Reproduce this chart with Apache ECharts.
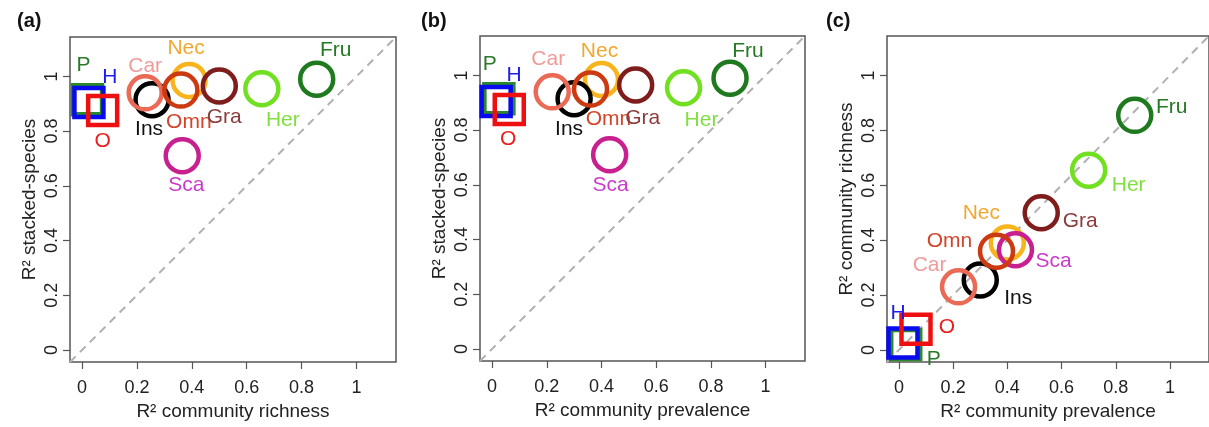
<!DOCTYPE html>
<html>
<head>
<meta charset="utf-8">
<script src="https://cdn.jsdelivr.net/npm/echarts@6/dist/echarts.min.js"></script>
<style>
html, body { margin: 0; background: #fff; }
#chart { width: 1209px; height: 427px; }
</style>
</head>
<body>
<div id="chart"></div>
<script>
// feeding guilds, in plotting order
var guilds     = ['P', 'H', 'O', 'Nec', 'Sca', 'Ins', 'Car', 'Omn', 'Gra', 'Her', 'Fru'];
var richness   = [0.02, 0.025, 0.075, 0.39, 0.365, 0.255, 0.23, 0.36, 0.50, 0.655, 0.855];
var prevalence = [0.025, 0.015, 0.063, 0.40, 0.43, 0.30, 0.22, 0.36, 0.525, 0.70, 0.87];
var stacked    = [0.915, 0.905, 0.875, 0.985, 0.71, 0.915, 0.94, 0.95, 0.965, 0.955, 0.99];
var tickValues = [0, 0.2, 0.4, 0.6, 0.8, 1];

//symbol & colours
var shapes     = ['rect', 'rect', 'rect', 'circle', 'circle', 'circle', 'circle', 'circle', 'circle', 'circle', 'circle'];
var ringColors = ['#2a8a2a', '#0a0aee', '#ee1010', '#f8b41c', '#c8208e', '#000000', '#ea6a55', '#cc3a12', '#7f1c1c', '#70e020', '#1f7a1f'];
var textColors = ['#2a7a2a', '#1c1cee', '#ee1c1c', '#f0a830', '#c93bc9', '#111111', '#f09a9a', '#d2452a', '#8c3c3c', '#80e040', '#237a23'];

//label offsets (px from marker centre) for each panel
var offsA = [[-4, -34], [21, -25], [0, 31], [-3, -32], [4, 29], [-3, 30], [0, -27], [8, 32], [5, 31], [21, 31], [19, -29]];
var offsB = [[-9, -34], [18, -26], [-1, 30], [-2, -28], [1, 30], [-5, 31], [-4, -33], [18, 30], [7, 33], [18, 32], [18, -27]];
var offsC = [[28, 15], [-5, -30], [31, -2], [-26, -30], [38, 11], [38, 18], [-29, -22], [-47, -10], [39, 8], [40, 15], [37, -8]];

var LO = -0.044, HI = 1.144;
var FONT = 'Liberation Sans, Arial, sans-serif';

var panels = [
  { tag: '(a)', xs: richness,   ys: stacked,  offs: offsA, xName: 'R² community richness',   yName: 'R² stacked-species',
    grid: { left: 70, top: 37, width: 326, height: 325 }, tagLeft: 12 },
  { tag: '(b)', xs: prevalence, ys: stacked,  offs: offsB, xName: 'R² community prevalence', yName: 'R² stacked-species',
    grid: { left: 480, top: 36, width: 325, height: 325 }, tagLeft: 416 },
  { tag: '(c)', xs: prevalence, ys: richness, offs: offsC, xName: 'R² community prevalence', yName: 'R² community richness',
    grid: { left: 887, top: 36, width: 326, height: 326 }, tagLeft: 821 }
];

function axisBase(name, isX) {
  return {
    type: 'value', min: LO, max: HI,
    name: name, nameLocation: 'middle', nameGap: isX ? 29 : 31,
    nameTextStyle: { fontFamily: FONT, fontSize: 19, color: '#222' },
    axisLine: { show: false, onZero: false },
    splitLine: { show: false },
    axisTick: { show: true, inside: false, length: 7, customValues: tickValues, lineStyle: { color: '#555', width: 1.2 } },
    axisLabel: {
      customValues: tickValues, margin: isX ? 17 : 9, rotate: isX ? 0 : 90,
      fontFamily: FONT, fontSize: 18, color: '#222',
      formatter: function (v) { return String(+v.toFixed(1)); }
    }
  };
}

var option = { animation: false, title: [], grid: [], xAxis: [], yAxis: [], series: [] };

panels.forEach(function (p, i) {
  option.title.push({ text: p.tag, left: p.tagLeft, top: 6, textStyle: { fontFamily: FONT, fontSize: 20, fontWeight: 'bold', color: '#111' } });
  option.grid.push(Object.assign({ show: true, borderColor: '#555', borderWidth: 1.5, backgroundColor: 'transparent' }, p.grid));
  option.xAxis.push(Object.assign(axisBase(p.xName, true), { gridIndex: i }));
  option.yAxis.push(Object.assign(axisBase(p.yName, false), { gridIndex: i }));

  option.series.push({
    type: 'line', xAxisIndex: i, yAxisIndex: i, silent: true, symbol: 'none', z: 1,
    data: [[LO, LO], [HI, HI]],
    lineStyle: { color: '#b0b0b0', width: 2, type: [8, 6] }
  });

  var pts = guilds.map(function (g, k) {
    var sq = shapes[k] === 'rect';
    return {
      value: [p.xs[k], p.ys[k]],
      symbol: shapes[k],
      symbolSize: sq ? 29 : 33,
      itemStyle: { color: 'rgba(0,0,0,0)', borderColor: ringColors[k], borderWidth: 4.5, opacity: 1 },
      label: {
        show: true, formatter: g, position: 'inside', offset: p.offs[k],
        align: 'center', verticalAlign: 'middle',
        fontFamily: FONT, fontSize: 21, color: textColors[k]
      }
    };
  });
  option.series.push({
    type: 'scatter', xAxisIndex: i, yAxisIndex: i, clip: false, z: 3,
    itemStyle: { opacity: 1 },
    data: pts
  });
});

var chart = echarts.init(document.getElementById('chart'));
chart.setOption(option);
</script>
</body>
</html>
